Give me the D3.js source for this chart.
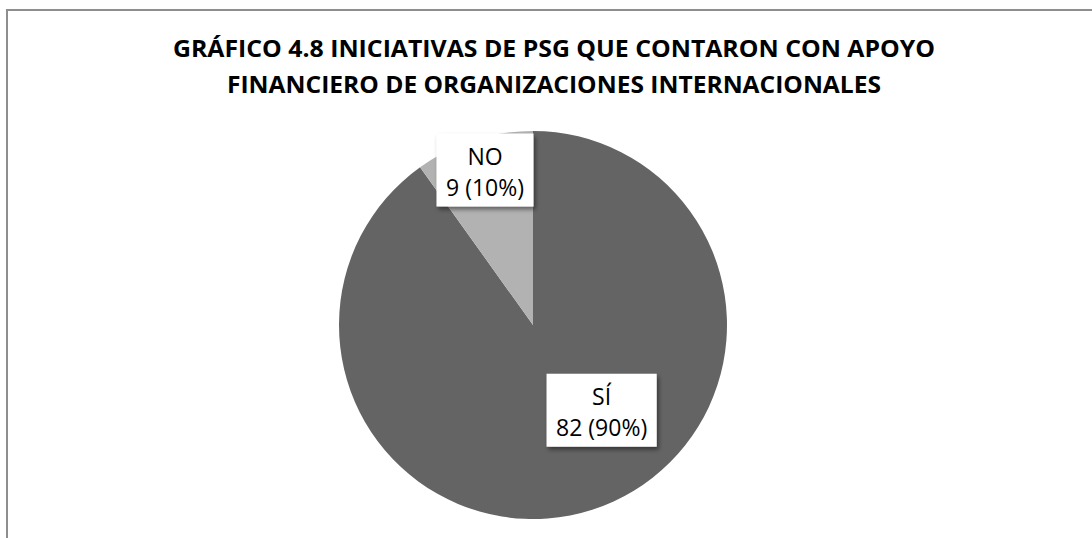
<!DOCTYPE html>
<html>
<head>
<meta charset="utf-8">
<script src="https://cdn.jsdelivr.net/npm/d3@7"></script>
<style>
  html, body { margin: 0; padding: 0; background: #fff; }
  svg { display: block; }
</style>
</head>
<body>
<div id="chart"></div>
<script>

// data
var categories = ['SÍ', 'NO'];
var values = [82, 9];
var titleLines = [
  'GRÁFICO 4.8 INICIATIVAS DE PSG QUE CONTARON CON APOYO',
  'FINANCIERO DE ORGANIZACIONES INTERNACIONALES'
];
var sliceColors = ['#646464', '#b2b2b2'];

var width = 1092,
    height = 538,
    radius = 194,
    center = {x: 533, y: 325};

var svg = d3.select('#chart').append('svg')
  .attr('width', width)
  .attr('height', height);

// shadow for the label boxes
var defs = svg.append('defs');
var f = defs.append('filter')
  .attr('id', 'shadow')
  .attr('x', '-20%').attr('y', '-20%')
  .attr('width', '150%').attr('height', '150%');
f.append('feDropShadow')
  .attr('dx', 2).attr('dy', 3)
  .attr('stdDeviation', 2)
  .attr('flood-color', '#000')
  .attr('flood-opacity', 0.45);

// outer frame (continues past the right and bottom edge)
svg.append('rect')
  .attr('x', 7).attr('y', 10)
  .attr('width', width + 20).attr('height', height + 20)
  .attr('fill', 'none')
  .attr('stroke', '#8e8e8e')
  .attr('stroke-width', 2);

// title
var titleWidths = [762, 654];
svg.append('g').selectAll('text')
  .data(titleLines)
  .join('text')
    .attr('x', 554)
    .attr('y', function(d, i) { return 57 + i * 36; })
    .attr('text-anchor', 'middle')
    .attr('textLength', function(d, i) { return titleWidths[i]; })
    .attr('lengthAdjust', 'spacingAndGlyphs')
    .style('font-family', '"Open Sans", sans-serif')
    .style('font-weight', 'bold')
    .style('font-size', '24px')
    .attr('fill', '#000')
    .text(function(d) { return d; });

// pie
var total = d3.sum(values);
var pieData = d3.pie().sort(null)(values);
var arc = d3.arc().innerRadius(0).outerRadius(radius);

var g = svg.append('g')
  .attr('transform', 'translate(' + [center.x, center.y] + ')');

g.selectAll('path')
  .data(pieData)
  .join('path')
    .attr('d', arc)
    .attr('fill', function(d, i) { return sliceColors[i]; });

// labels: centroid at a chosen radius, nudged like the excel best-fit
var labelRadius = [110, 157];
var labelNudge = [[35, -19], [0, -5]];

var labels = g.selectAll('g.label')
  .data(pieData)
  .join('g')
    .attr('class', 'label')
    .attr('transform', function(d, i) {
      var c = d3.arc().innerRadius(labelRadius[i]).outerRadius(labelRadius[i]).centroid(d);
      return 'translate(' + [c[0] + labelNudge[i][0], c[1] + labelNudge[i][1]] + ')';
    });

labels.each(function(d, i) {
  var lg = d3.select(this);
  var pct = Math.round(d.value / total * 100);
  var lines = [categories[i], d.value + ' (' + pct + '%)'];
  var box = lg.append('rect')
    .attr('fill', '#fff')
    .attr('filter', 'url(#shadow)');
  var t = lg.selectAll('text')
    .data(lines)
    .join('text')
      .attr('x', 0)
      .attr('y', function(s, k) { return -6 + k * 31; })
      .attr('text-anchor', 'middle')
      .style('font-family', '"Open Sans", sans-serif')
      .style('font-size', '23px')
      .attr('fill', '#000')
      .text(function(s) { return s; });
  var w = 0;
  t.each(function() { w = Math.max(w, this.getComputedTextLength()); });
  box.attr('x', -(w + 19) / 2)
    .attr('y', -37)
    .attr('width', w + 19)
    .attr('height', 73);
});

</script>
</body>
</html>
